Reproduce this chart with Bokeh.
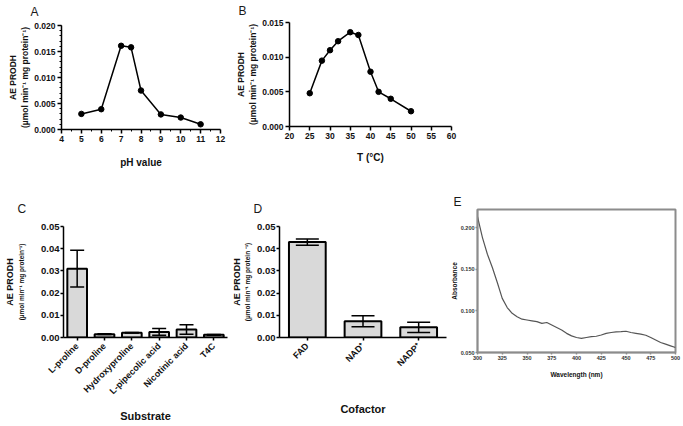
import numpy as np
from bokeh.plotting import figure
from bokeh.models import (Range1d, FixedTicker, NumeralTickFormatter, ColumnDataSource,
                          Whisker, TeeHead, FactorRange, Spacer, LinearAxis)
from bokeh.layouts import column, row
from bokeh.embed import file_html
from bokeh.resources import INLINE

FONT = "Liberation Sans"
INK = "#111111"

# ---------------- data ----------------
ph = [5, 6, 7, 7.5, 8, 9, 10, 11]
ph_activity = [0.0030, 0.0039, 0.0161, 0.0158, 0.0075, 0.0029, 0.0023, 0.0010]

temp = [25, 28, 30, 32, 35, 37, 40, 42, 45, 50]
temp_activity = [0.0048, 0.0095, 0.0110, 0.0123, 0.0136, 0.0132, 0.0079, 0.0050, 0.0040, 0.0022]

substrates = ["L-proline", "D-proline", "Hydroxyproline", "L-pipecolic acid", "Nicotinic acid", "T4C"]
substrate_activity = [0.0310, 0.0015, 0.0021, 0.0025, 0.0036, 0.0012]
substrate_sd = [0.0083, 0.0002, 0.0001, 0.0015, 0.0021, 0.0002]

cofactors = ["FAD", "NAD⁺", "NADP⁺"]
cofactor_activity = [0.0430, 0.0073, 0.0046]
cofactor_sd = [0.0014, 0.0025, 0.0023]

wavelength = [300, 305, 310, 315, 320, 325, 330, 335, 340, 345, 350, 355, 360, 365, 370,
              375, 380, 385, 390, 395, 400, 405, 410, 415, 420, 425, 430, 435, 440, 445,
              450, 455, 460, 465, 470, 475, 480, 485, 490, 495, 500]
absorbance = [0.213, 0.188, 0.168, 0.152, 0.134, 0.115, 0.104, 0.097, 0.093, 0.090,
              0.089, 0.088, 0.087, 0.085, 0.086, 0.083, 0.080, 0.077, 0.073, 0.070,
              0.068, 0.067, 0.068, 0.069, 0.0695, 0.071, 0.073, 0.074, 0.0747, 0.075,
              0.0755, 0.074, 0.073, 0.072, 0.0707, 0.068, 0.065, 0.062, 0.060, 0.058, 0.056]

ylab1 = "AE PRODH"
ylab2 = "(µmol min⁻¹ mg protein⁻¹)"
ylab2_d = "(µmol min⁻¹ mg protein ⁻¹)"


def base_fig(w, h, l, r, t, b, xr, yr, letter, offset, standoff, valign="top"):
    p = figure(width=w, height=h, x_range=xr, y_range=yr, output_backend="svg",
               toolbar_location=None, min_border_left=l, min_border_right=r,
               min_border_top=t, min_border_bottom=b)
    p.outline_line_color = None
    p.xgrid.visible = False
    p.ygrid.visible = False
    p.title.text = letter
    p.title.align = "left"
    p.title.vertical_align = valign
    p.title.offset = offset
    p.title.standoff = standoff
    p.title.text_font = FONT
    p.title.text_font_size = "12px"
    p.title.text_font_style = "normal"
    p.title.text_color = "#1a1a1a"
    return p


def style_axes(p, size="8.5px", color="black", width=1.5, tick_out=4, standoff=2):
    for ax in p.axis:
        ax.axis_line_width = width
        ax.axis_line_color = color
        ax.major_tick_line_width = width
        ax.major_tick_line_color = color
        ax.minor_tick_line_color = color
        ax.minor_tick_line_width = 1
        ax.major_tick_out = tick_out
        ax.major_tick_in = 0
        ax.minor_tick_out = 2
        ax.minor_tick_in = 0
        ax.major_label_text_font = FONT
        ax.major_label_text_font_style = "bold"
        ax.major_label_text_font_size = size
        ax.major_label_text_color = INK
        ax.major_label_standoff = standoff
        ax.axis_label_text_font = FONT
        ax.axis_label_text_font_style = "bold"
        ax.axis_label_text_color = INK


def axis_title(ax, text, size, standoff):
    ax.axis_label = text
    ax.axis_label_text_font_size = size
    ax.axis_label_standoff = standoff


def outer_ylabel(p, text, size, standoff):
    extra = LinearAxis(ticker=FixedTicker(ticks=[]), axis_line_color=None,
                       major_tick_line_color=None, minor_tick_line_color=None,
                       major_tick_out=0, minor_tick_out=0, major_label_standoff=0,
                       axis_label=text, axis_label_standoff=standoff,
                       axis_label_text_font=FONT, axis_label_text_font_size=size,
                       axis_label_text_font_style="bold", axis_label_text_color=INK)
    p.add_layout(extra, "left")


# ---------------- Panel A ----------------
pA = base_fig(232, 192, 61, 12, 25, 63, Range1d(4, 12), Range1d(0, 0.020), "A", -31, 9)
pA.line(ph, ph_activity, line_color="black", line_width=1.5)
pA.scatter(ph, ph_activity, size=5.5, fill_color="black", line_color="black")
style_axes(pA)
pA.xaxis.ticker = FixedTicker(ticks=[4, 5, 6, 7, 8, 9, 10, 11, 12],
                              minor_ticks=[4.5, 5.5, 6.5, 7.5, 8.5, 9.5, 10.5, 11.5])
pA.yaxis.ticker = FixedTicker(ticks=[0, 0.005, 0.010, 0.015, 0.020],
                              minor_ticks=[i * 0.001 for i in range(21)])
pA.yaxis.formatter = NumeralTickFormatter(format="0.000")
axis_title(pA.yaxis[0], ylab2, "8.5px", 1)
axis_title(pA.xaxis[0], "pH value", "10px", 12)
outer_ylabel(pA, ylab1, "8.5px", 0)

# ---------------- Panel B ----------------
pB = base_fig(228, 192, 57, 9, 22, 66, Range1d(20, 60), Range1d(0, 0.015), "B", -51, 6)
pB.line(temp, temp_activity, line_color="black", line_width=1.5)
pB.scatter(temp, temp_activity, size=5.5, fill_color="black", line_color="black")
style_axes(pB)
pB.xaxis.ticker = FixedTicker(ticks=[20, 25, 30, 35, 40, 45, 50, 55, 60])
pB.yaxis.ticker = FixedTicker(ticks=[0, 0.005, 0.010, 0.015])
pB.yaxis.formatter = NumeralTickFormatter(format="0.000")
axis_title(pB.yaxis[0], ylab2, "8.5px", 1)
axis_title(pB.xaxis[0], "T (°C)", "10px", 10)
outer_ylabel(pB, ylab1, "8.5px", 0)

# ---------------- Panel C ----------------
srcC = ColumnDataSource(dict(
    x=substrates, top=substrate_activity,
    upper=[m + s for m, s in zip(substrate_activity, substrate_sd)],
    lower=[m - s for m, s in zip(substrate_activity, substrate_sd)]))
pC = base_fig(228, 234, 63, 1, 34, 89, FactorRange(*substrates), Range1d(0, 0.05), "C", -46, 18)
pC.vbar(x="x", top="top", width=0.72, source=srcC, fill_color="#d9d9d9",
        line_color="black", line_width=2)
pC.add_layout(Whisker(base="x", upper="upper", lower="lower", source=srcC, level="annotation",
                      line_width=1.5, line_color="black",
                      upper_head=TeeHead(size=14, line_width=1.5, line_color="black"),
                      lower_head=TeeHead(size=14, line_width=1.5, line_color="black")))
style_axes(pC, size="9.5px", tick_out=3, standoff=1)
pC.xaxis.major_label_orientation = np.pi / 4
pC.xaxis.major_label_text_font_size = "9px"
pC.xaxis.major_label_standoff = 4
pC.yaxis.ticker = FixedTicker(ticks=[0, 0.01, 0.02, 0.03, 0.04, 0.05])
pC.yaxis.formatter = NumeralTickFormatter(format="0.00")
axis_title(pC.yaxis[0], ylab2, "6.5px", 13)
axis_title(pC.xaxis[0], "Substrate", "11px", 7)
outer_ylabel(pC, ylab1, "9px", 1)

# ---------------- Panel D ----------------
srcD = ColumnDataSource(dict(
    x=cofactors, top=cofactor_activity,
    upper=[m + s for m, s in zip(cofactor_activity, cofactor_sd)],
    lower=[m - s for m, s in zip(cofactor_activity, cofactor_sd)]))
pD = base_fig(219, 234, 49, 1, 34, 88, FactorRange(*cofactors), Range1d(0, 0.05), "D", -26, 18)
pD.vbar(x="x", top="top", width=0.66, source=srcD, fill_color="#d9d9d9",
        line_color="black", line_width=2)
pD.add_layout(Whisker(base="x", upper="upper", lower="lower", source=srcD, level="annotation",
                      line_width=1.5, line_color="black",
                      upper_head=TeeHead(size=23, line_width=1.5, line_color="black"),
                      lower_head=TeeHead(size=23, line_width=1.5, line_color="black")))
style_axes(pD, size="9.5px", tick_out=3, standoff=1)
pD.xaxis.major_label_orientation = np.pi / 4
pD.xaxis.major_label_text_font_size = "9px"
pD.xaxis.major_label_standoff = 4
pD.yaxis.ticker = FixedTicker(ticks=[0, 0.01, 0.02, 0.03, 0.04, 0.05])
pD.yaxis.formatter = NumeralTickFormatter(format="0.00")
axis_title(pD.yaxis[0], ylab2_d, "6.5px", 3)
axis_title(pD.xaxis[0], "Cofactor", "11px", 28)
outer_ylabel(pD, ylab1, "9px", 0)

# ---------------- Panel E ----------------
pE = base_fig(236, 234, 29, 8, 17, 74, Range1d(300, 500), Range1d(0.05, 0.2217), "E", -24, 1,
              valign="bottom")
pE.line(wavelength, absorbance, line_color="#555555", line_width=1.2)
style_axes(pE, size="5.5px", color="#8c8c8c", width=1.5, tick_out=2, standoff=1)
pE.outline_line_color = "#8c8c8c"
pE.outline_line_width = 2
for ax in pE.axis:
    ax.major_label_text_color = "#333333"
pE.xaxis.ticker = FixedTicker(ticks=[300, 325, 350, 375, 400, 425, 450, 475, 500])
pE.yaxis.ticker = FixedTicker(ticks=[0.05, 0.10, 0.15, 0.20])
pE.yaxis.formatter = NumeralTickFormatter(format="0.000")
axis_title(pE.yaxis[0], "Absorbance", "6.5px", 0)
axis_title(pE.xaxis[0], "Wavelength (nm)", "6.5px", 8)

layout = column(row(column(pA), column(pB), Spacer(width=223, height=192)),
                row(pC, pD, column(pE)))

open("out.html", "w").write(file_html(layout, INLINE))
